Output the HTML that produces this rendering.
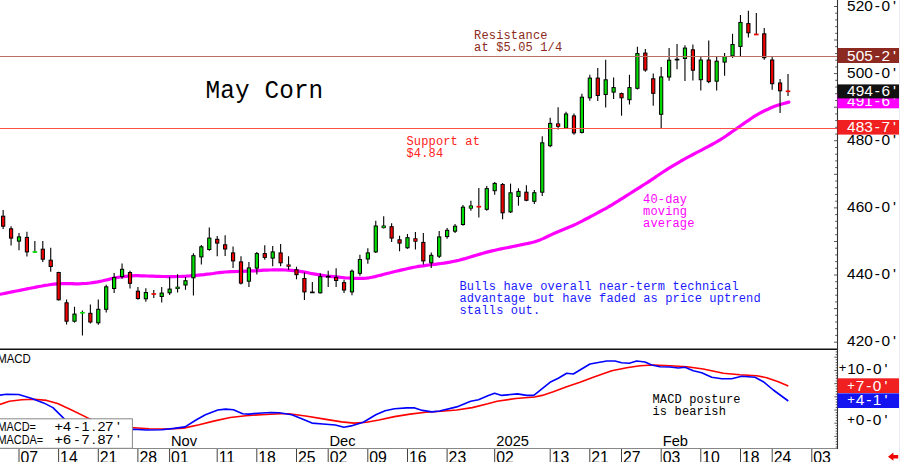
<!DOCTYPE html>
<html><head><meta charset="utf-8"><title>May Corn</title>
<style>
html,body{margin:0;padding:0;background:#fff;}
body{width:900px;height:462px;overflow:hidden;position:relative;font-family:"Liberation Sans",sans-serif;}
svg{position:absolute;left:0;top:0;display:block}
.sans{font-family:"Liberation Sans",sans-serif;}
.mono{font-family:"Liberation Mono",monospace;}
</style></head><body>
<svg width="900" height="462" viewBox="0 0 900 462">
<polyline points="0.0,294.3 3.0,293.7 6.0,293.1 9.0,292.5 12.0,291.9 15.0,291.3 18.0,290.7 21.0,290.1 24.0,289.5 27.0,288.9 30.0,288.3 33.0,287.7 36.0,287.1 39.0,286.5 42.0,286.0 45.0,285.4 48.0,285.0 51.0,284.5 54.0,284.1 57.0,283.8 60.0,283.6 63.0,283.5 66.0,283.6 69.0,283.6 72.0,283.7 75.0,283.8 78.0,283.8 81.0,283.7 84.0,283.5 87.0,283.3 90.0,283.0 93.0,282.6 96.0,282.2 99.0,281.6 102.0,281.0 105.0,280.3 108.0,279.6 111.0,278.8 114.0,278.1 117.0,277.5 120.0,277.0 123.0,276.6 126.0,276.3 129.0,276.0 132.0,275.8 135.0,275.7 138.0,275.7 141.0,275.8 144.0,275.9 147.0,276.0 150.0,276.1 153.0,276.2 156.0,276.3 159.0,276.4 162.0,276.5 165.0,276.5 168.0,276.6 171.0,276.6 174.0,276.6 177.0,276.5 180.0,276.5 183.0,276.3 186.0,276.2 189.0,276.0 192.0,275.7 195.0,275.5 198.0,275.2 201.0,274.9 204.0,274.6 207.0,274.2 210.0,273.9 213.0,273.5 216.0,273.0 219.0,272.6 222.0,272.3 225.0,272.0 228.0,271.8 231.0,271.7 234.0,271.6 237.0,271.5 240.0,271.4 243.0,271.3 246.0,271.2 249.0,271.1 252.0,270.9 255.0,270.8 258.0,270.6 261.0,270.4 264.0,270.2 267.0,270.1 270.0,270.0 273.0,269.9 276.0,269.8 279.0,269.8 282.0,269.9 285.0,270.0 288.0,270.2 291.0,270.4 294.0,270.6 297.0,270.9 300.0,271.3 303.0,271.8 306.0,272.4 309.0,273.0 312.0,273.7 315.0,274.2 318.0,274.7 321.0,275.2 324.0,275.6 327.0,276.0 330.0,276.3 333.0,276.6 336.0,276.9 339.0,277.2 342.0,277.5 345.0,277.8 348.0,278.0 351.0,278.2 354.0,278.3 357.0,278.4 360.0,278.4 363.0,278.3 366.0,278.1 369.0,277.8 372.0,277.2 375.0,276.6 378.0,275.8 381.0,275.1 384.0,274.3 387.0,273.5 390.0,272.8 393.0,272.0 396.0,271.3 399.0,270.6 402.0,269.9 405.0,269.2 408.0,268.5 411.0,267.9 414.0,267.3 417.0,266.7 420.0,266.2 423.0,265.8 426.0,265.3 429.0,265.0 432.0,264.7 435.0,264.3 438.0,263.9 441.0,263.5 444.0,263.1 447.0,262.6 450.0,262.1 453.0,261.5 456.0,260.9 459.0,260.2 462.0,259.4 465.0,258.6 468.0,257.7 471.0,256.8 474.0,255.9 477.0,255.0 480.0,254.1 483.0,253.3 486.0,252.4 489.0,251.6 492.0,250.9 495.0,250.2 498.0,249.5 501.0,248.9 504.0,248.3 507.0,247.7 510.0,247.1 513.0,246.5 516.0,245.9 519.0,245.2 522.0,244.6 525.0,244.0 528.0,243.4 531.0,242.7 534.0,242.0 537.0,241.0 540.0,239.9 543.0,238.6 546.0,237.2 549.0,235.8 552.0,234.4 555.0,233.0 558.0,231.7 561.0,230.5 564.0,229.3 567.0,228.0 570.0,226.8 573.0,225.5 576.0,224.1 579.0,222.6 582.0,221.1 585.0,219.5 588.0,218.0 591.0,216.4 594.0,214.8 597.0,213.2 600.0,211.5 603.0,209.9 606.0,208.3 609.0,206.5 612.0,204.8 615.0,202.9 618.0,201.1 621.0,199.2 624.0,197.3 627.0,195.4 630.0,193.5 633.0,191.6 636.0,189.7 639.0,187.8 642.0,185.9 645.0,184.0 648.0,182.1 651.0,180.1 654.0,178.1 657.0,176.0 660.0,174.0 663.0,172.0 666.0,170.1 669.0,168.2 672.0,166.4 675.0,164.6 678.0,162.8 681.0,161.0 684.0,159.3 687.0,157.7 690.0,156.1 693.0,154.5 696.0,152.9 699.0,151.4 702.0,149.8 705.0,148.2 708.0,146.6 711.0,145.0 714.0,143.3 717.0,141.7 720.0,139.9 723.0,138.0 726.0,136.0 729.0,133.9 732.0,131.8 735.0,129.7 738.0,127.6 741.0,125.5 744.0,123.4 747.0,121.3 750.0,119.3 753.0,117.2 756.0,115.3 759.0,113.6 762.0,112.0 765.0,110.5 768.0,109.2 771.0,107.8 774.0,106.6 777.0,105.5 780.0,104.5 783.0,103.7 786.0,102.9 788.9,102.1" fill="none" stroke="#ff00ff" stroke-width="3.2" stroke-linejoin="round" stroke-linecap="round"/>
<line x1="3.15" y1="210.0" x2="3.15" y2="229.0" stroke="#000" stroke-width="1.1"/>
<rect x="1.55" y="216.2" width="3.2" height="10.0" fill="#f00000" stroke="#000" stroke-width="1"/>
<line x1="11.08" y1="226.3" x2="11.08" y2="245.5" stroke="#000" stroke-width="1.1"/>
<rect x="9.48" y="228.8" width="3.2" height="9.3" fill="#f00000" stroke="#000" stroke-width="1"/>
<line x1="19.01" y1="232.9" x2="19.01" y2="250.2" stroke="#000" stroke-width="1.1"/>
<rect x="17.41" y="236.9" width="3.2" height="4.2" fill="#00e000" stroke="#000" stroke-width="1"/>
<line x1="26.93" y1="231.8" x2="26.93" y2="256.4" stroke="#000" stroke-width="1.1"/>
<rect x="25.33" y="237.4" width="3.2" height="14.5" fill="#f00000" stroke="#000" stroke-width="1"/>
<line x1="34.86" y1="240.9" x2="34.86" y2="252.8" stroke="#000" stroke-width="1.1"/>
<line x1="32.56" y1="252.0" x2="37.16" y2="252.0" stroke="#00e000" stroke-width="1.7"/>
<line x1="42.79" y1="241.0" x2="42.79" y2="262.0" stroke="#000" stroke-width="1.1"/>
<rect x="41.19" y="249.2" width="3.2" height="10.0" fill="#f00000" stroke="#000" stroke-width="1"/>
<line x1="50.72" y1="247.8" x2="50.72" y2="271.7" stroke="#000" stroke-width="1.1"/>
<rect x="49.12" y="260.2" width="3.2" height="6.3" fill="#f00000" stroke="#000" stroke-width="1"/>
<line x1="58.65" y1="271.7" x2="58.65" y2="300.6" stroke="#000" stroke-width="1.1"/>
<rect x="57.05" y="272.5" width="3.2" height="27.3" fill="#f00000" stroke="#000" stroke-width="1"/>
<line x1="66.57" y1="299.5" x2="66.57" y2="324.5" stroke="#000" stroke-width="1.1"/>
<rect x="64.97" y="302.8" width="3.2" height="18.4" fill="#f00000" stroke="#000" stroke-width="1"/>
<line x1="74.50" y1="306.8" x2="74.50" y2="322.6" stroke="#000" stroke-width="1.1"/>
<rect x="72.90" y="314.1" width="3.2" height="7.1" fill="#00e000" stroke="#000" stroke-width="1"/>
<line x1="82.43" y1="310.4" x2="82.43" y2="335.5" stroke="#000" stroke-width="1.1"/>
<line x1="80.13" y1="312.8" x2="84.73" y2="312.8" stroke="#00e000" stroke-width="1.7"/>
<line x1="90.36" y1="304.4" x2="90.36" y2="323.4" stroke="#000" stroke-width="1.1"/>
<rect x="88.76" y="313.3" width="3.2" height="8.7" fill="#f00000" stroke="#000" stroke-width="1"/>
<line x1="98.29" y1="299.5" x2="98.29" y2="324.7" stroke="#000" stroke-width="1.1"/>
<rect x="96.69" y="309.3" width="3.2" height="13.5" fill="#00e000" stroke="#000" stroke-width="1"/>
<line x1="106.21" y1="284.8" x2="106.21" y2="312.4" stroke="#000" stroke-width="1.1"/>
<rect x="104.61" y="286.8" width="3.2" height="22.5" fill="#00e000" stroke="#000" stroke-width="1"/>
<line x1="114.14" y1="272.9" x2="114.14" y2="293.0" stroke="#000" stroke-width="1.1"/>
<rect x="112.54" y="277.5" width="3.2" height="11.0" fill="#00e000" stroke="#000" stroke-width="1"/>
<line x1="122.07" y1="263.6" x2="122.07" y2="278.8" stroke="#000" stroke-width="1.1"/>
<rect x="120.47" y="269.3" width="3.2" height="7.2" fill="#00e000" stroke="#000" stroke-width="1"/>
<line x1="130.00" y1="270.7" x2="130.00" y2="288.6" stroke="#000" stroke-width="1.1"/>
<rect x="128.40" y="272.5" width="3.2" height="10.8" fill="#f00000" stroke="#000" stroke-width="1"/>
<line x1="137.93" y1="287.0" x2="137.93" y2="299.8" stroke="#000" stroke-width="1.1"/>
<rect x="136.33" y="291.2" width="3.2" height="7.3" fill="#f00000" stroke="#000" stroke-width="1"/>
<line x1="145.85" y1="288.3" x2="145.85" y2="301.7" stroke="#000" stroke-width="1.1"/>
<rect x="144.25" y="292.5" width="3.2" height="6.3" fill="#00e000" stroke="#000" stroke-width="1"/>
<line x1="153.78" y1="290.0" x2="153.78" y2="297.9" stroke="#000" stroke-width="1.1"/>
<line x1="151.48" y1="294.0" x2="156.08" y2="294.0" stroke="#f00000" stroke-width="1.7"/>
<line x1="161.71" y1="287.0" x2="161.71" y2="302.6" stroke="#000" stroke-width="1.1"/>
<rect x="160.11" y="293.1" width="3.2" height="3.4" fill="#00e000" stroke="#000" stroke-width="1"/>
<line x1="169.64" y1="277.0" x2="169.64" y2="295.0" stroke="#000" stroke-width="1.1"/>
<rect x="168.04" y="289.1" width="3.2" height="3.7" fill="#00e000" stroke="#000" stroke-width="1"/>
<line x1="177.57" y1="274.3" x2="177.57" y2="292.6" stroke="#000" stroke-width="1.1"/>
<rect x="175.47" y="286.7" width="4.2" height="2.3" fill="#000"/>
<rect x="176.37" y="287.3" width="2.4" height="1.1" fill="#00e000"/>
<line x1="185.49" y1="277.0" x2="185.49" y2="289.8" stroke="#000" stroke-width="1.1"/>
<rect x="183.89" y="280.7" width="3.2" height="4.3" fill="#00e000" stroke="#000" stroke-width="1"/>
<line x1="193.42" y1="253.3" x2="193.42" y2="295.5" stroke="#000" stroke-width="1.1"/>
<rect x="191.82" y="255.7" width="3.2" height="22.1" fill="#00e000" stroke="#000" stroke-width="1"/>
<line x1="201.35" y1="245.0" x2="201.35" y2="264.5" stroke="#000" stroke-width="1.1"/>
<rect x="199.75" y="246.8" width="3.2" height="10.1" fill="#00e000" stroke="#000" stroke-width="1"/>
<line x1="209.28" y1="227.4" x2="209.28" y2="250.7" stroke="#000" stroke-width="1.1"/>
<rect x="207.68" y="238.1" width="3.2" height="11.4" fill="#00e000" stroke="#000" stroke-width="1"/>
<line x1="217.21" y1="236.0" x2="217.21" y2="256.2" stroke="#000" stroke-width="1.1"/>
<rect x="215.61" y="239.3" width="3.2" height="3.8" fill="#f00000" stroke="#000" stroke-width="1"/>
<line x1="225.13" y1="235.2" x2="225.13" y2="256.0" stroke="#000" stroke-width="1.1"/>
<rect x="223.53" y="244.8" width="3.2" height="4.2" fill="#f00000" stroke="#000" stroke-width="1"/>
<line x1="233.06" y1="246.4" x2="233.06" y2="267.9" stroke="#000" stroke-width="1.1"/>
<rect x="231.46" y="252.9" width="3.2" height="8.0" fill="#f00000" stroke="#000" stroke-width="1"/>
<line x1="240.99" y1="256.2" x2="240.99" y2="284.5" stroke="#000" stroke-width="1.1"/>
<rect x="239.39" y="261.9" width="3.2" height="21.2" fill="#f00000" stroke="#000" stroke-width="1"/>
<line x1="248.92" y1="261.9" x2="248.92" y2="286.9" stroke="#000" stroke-width="1.1"/>
<rect x="247.32" y="267.9" width="3.2" height="13.3" fill="#00e000" stroke="#000" stroke-width="1"/>
<line x1="256.85" y1="251.9" x2="256.85" y2="274.5" stroke="#000" stroke-width="1.1"/>
<rect x="255.25" y="253.6" width="3.2" height="14.5" fill="#00e000" stroke="#000" stroke-width="1"/>
<line x1="264.77" y1="245.2" x2="264.77" y2="259.8" stroke="#000" stroke-width="1.1"/>
<rect x="263.17" y="253.6" width="3.2" height="3.8" fill="#f00000" stroke="#000" stroke-width="1"/>
<line x1="272.70" y1="246.0" x2="272.70" y2="266.2" stroke="#000" stroke-width="1.1"/>
<rect x="271.10" y="251.9" width="3.2" height="6.2" fill="#00e000" stroke="#000" stroke-width="1"/>
<line x1="280.63" y1="244.0" x2="280.63" y2="266.2" stroke="#000" stroke-width="1.1"/>
<rect x="279.03" y="252.9" width="3.2" height="9.9" fill="#f00000" stroke="#000" stroke-width="1"/>
<line x1="288.56" y1="256.2" x2="288.56" y2="269.8" stroke="#000" stroke-width="1.1"/>
<rect x="286.46" y="264.5" width="4.2" height="2.2" fill="#000"/>
<rect x="287.36" y="265.1" width="2.4" height="1.0" fill="#f00000"/>
<line x1="296.49" y1="266.7" x2="296.49" y2="279.3" stroke="#000" stroke-width="1.1"/>
<rect x="294.89" y="269.8" width="3.2" height="4.9" fill="#f00000" stroke="#000" stroke-width="1"/>
<line x1="304.41" y1="272.4" x2="304.41" y2="300.0" stroke="#000" stroke-width="1.1"/>
<rect x="302.81" y="278.5" width="3.2" height="13.4" fill="#f00000" stroke="#000" stroke-width="1"/>
<line x1="312.34" y1="282.0" x2="312.34" y2="292.9" stroke="#000" stroke-width="1.1"/>
<line x1="310.04" y1="292.4" x2="314.64" y2="292.4" stroke="#000" stroke-width="1.7"/>
<line x1="320.27" y1="273.3" x2="320.27" y2="293.6" stroke="#000" stroke-width="1.1"/>
<rect x="318.67" y="276.7" width="3.2" height="16.1" fill="#00e000" stroke="#000" stroke-width="1"/>
<line x1="328.20" y1="270.7" x2="328.20" y2="286.9" stroke="#000" stroke-width="1.1"/>
<line x1="325.90" y1="276.7" x2="330.50" y2="276.7" stroke="#000" stroke-width="1.7"/>
<line x1="336.13" y1="268.3" x2="336.13" y2="286.9" stroke="#000" stroke-width="1.1"/>
<rect x="334.53" y="277.4" width="3.2" height="3.1" fill="#f00000" stroke="#000" stroke-width="1"/>
<line x1="344.05" y1="279.8" x2="344.05" y2="292.9" stroke="#000" stroke-width="1.1"/>
<rect x="342.45" y="282.6" width="3.2" height="7.4" fill="#f00000" stroke="#000" stroke-width="1"/>
<line x1="351.98" y1="269.5" x2="351.98" y2="295.2" stroke="#000" stroke-width="1.1"/>
<rect x="350.38" y="271.2" width="3.2" height="20.7" fill="#00e000" stroke="#000" stroke-width="1"/>
<line x1="359.91" y1="254.8" x2="359.91" y2="275.7" stroke="#000" stroke-width="1.1"/>
<rect x="358.31" y="259.5" width="3.2" height="13.8" fill="#00e000" stroke="#000" stroke-width="1"/>
<line x1="367.84" y1="248.3" x2="367.84" y2="263.8" stroke="#000" stroke-width="1.1"/>
<rect x="366.24" y="252.9" width="3.2" height="6.1" fill="#00e000" stroke="#000" stroke-width="1"/>
<line x1="375.77" y1="220.7" x2="375.77" y2="252.9" stroke="#000" stroke-width="1.1"/>
<rect x="374.17" y="226.0" width="3.2" height="25.9" fill="#00e000" stroke="#000" stroke-width="1"/>
<line x1="383.69" y1="216.2" x2="383.69" y2="228.6" stroke="#000" stroke-width="1.1"/>
<rect x="381.59" y="225.5" width="4.2" height="2.6" fill="#000"/>
<rect x="382.49" y="226.1" width="2.4" height="1.4" fill="#00e000"/>
<line x1="391.62" y1="223.3" x2="391.62" y2="242.1" stroke="#000" stroke-width="1.1"/>
<rect x="390.02" y="226.7" width="3.2" height="11.4" fill="#f00000" stroke="#000" stroke-width="1"/>
<line x1="399.55" y1="235.7" x2="399.55" y2="251.2" stroke="#000" stroke-width="1.1"/>
<rect x="397.95" y="239.8" width="3.2" height="3.3" fill="#f00000" stroke="#000" stroke-width="1"/>
<line x1="407.48" y1="234.0" x2="407.48" y2="248.8" stroke="#000" stroke-width="1.1"/>
<rect x="405.88" y="237.7" width="3.2" height="10.1" fill="#00e000" stroke="#000" stroke-width="1"/>
<line x1="415.41" y1="232.1" x2="415.41" y2="249.5" stroke="#000" stroke-width="1.1"/>
<rect x="413.31" y="238.3" width="4.2" height="3.4" fill="#000"/>
<rect x="414.21" y="238.9" width="2.4" height="2.2" fill="#f00000"/>
<line x1="423.33" y1="232.9" x2="423.33" y2="264.5" stroke="#000" stroke-width="1.1"/>
<rect x="421.73" y="242.4" width="3.2" height="18.5" fill="#f00000" stroke="#000" stroke-width="1"/>
<line x1="431.26" y1="252.6" x2="431.26" y2="268.1" stroke="#000" stroke-width="1.1"/>
<rect x="429.66" y="255.3" width="3.2" height="7.5" fill="#00e000" stroke="#000" stroke-width="1"/>
<line x1="439.19" y1="231.0" x2="439.19" y2="257.9" stroke="#000" stroke-width="1.1"/>
<rect x="437.59" y="236.9" width="3.2" height="19.3" fill="#00e000" stroke="#000" stroke-width="1"/>
<line x1="447.12" y1="228.1" x2="447.12" y2="238.8" stroke="#000" stroke-width="1.1"/>
<rect x="445.52" y="230.3" width="3.2" height="6.3" fill="#00e000" stroke="#000" stroke-width="1"/>
<line x1="455.05" y1="224.0" x2="455.05" y2="232.9" stroke="#000" stroke-width="1.1"/>
<rect x="453.45" y="226.2" width="3.2" height="5.0" fill="#00e000" stroke="#000" stroke-width="1"/>
<line x1="462.97" y1="205.0" x2="462.97" y2="225.7" stroke="#000" stroke-width="1.1"/>
<rect x="461.37" y="207.2" width="3.2" height="17.3" fill="#00e000" stroke="#000" stroke-width="1"/>
<line x1="470.90" y1="200.7" x2="470.90" y2="210.7" stroke="#000" stroke-width="1.1"/>
<rect x="468.80" y="205.5" width="4.2" height="3.1" fill="#000"/>
<rect x="469.70" y="206.1" width="2.4" height="1.9" fill="#00e000"/>
<line x1="478.83" y1="188.1" x2="478.83" y2="217.4" stroke="#000" stroke-width="1.1"/>
<line x1="476.53" y1="206.7" x2="481.13" y2="206.7" stroke="#f00000" stroke-width="1.7"/>
<line x1="486.76" y1="186.0" x2="486.76" y2="210.7" stroke="#000" stroke-width="1.1"/>
<rect x="485.16" y="188.6" width="3.2" height="20.7" fill="#00e000" stroke="#000" stroke-width="1"/>
<line x1="494.69" y1="182.1" x2="494.69" y2="194.8" stroke="#000" stroke-width="1.1"/>
<rect x="493.09" y="183.4" width="3.2" height="7.3" fill="#00e000" stroke="#000" stroke-width="1"/>
<line x1="502.61" y1="182.9" x2="502.61" y2="219.3" stroke="#000" stroke-width="1.1"/>
<rect x="501.01" y="184.5" width="3.2" height="28.3" fill="#f00000" stroke="#000" stroke-width="1"/>
<line x1="510.54" y1="183.6" x2="510.54" y2="213.0" stroke="#000" stroke-width="1.1"/>
<rect x="508.94" y="192.8" width="3.2" height="19.1" fill="#00e000" stroke="#000" stroke-width="1"/>
<line x1="518.47" y1="188.3" x2="518.47" y2="205.7" stroke="#000" stroke-width="1.1"/>
<rect x="516.87" y="191.4" width="3.2" height="5.0" fill="#00e000" stroke="#000" stroke-width="1"/>
<line x1="526.40" y1="185.2" x2="526.40" y2="201.3" stroke="#000" stroke-width="1.1"/>
<rect x="524.80" y="192.2" width="3.2" height="8.1" fill="#f00000" stroke="#000" stroke-width="1"/>
<line x1="534.33" y1="190.1" x2="534.33" y2="203.9" stroke="#000" stroke-width="1.1"/>
<rect x="532.73" y="192.7" width="3.2" height="8.6" fill="#00e000" stroke="#000" stroke-width="1"/>
<line x1="542.25" y1="136.2" x2="542.25" y2="196.1" stroke="#000" stroke-width="1.1"/>
<rect x="540.65" y="142.8" width="3.2" height="49.4" fill="#00e000" stroke="#000" stroke-width="1"/>
<line x1="550.18" y1="117.7" x2="550.18" y2="147.3" stroke="#000" stroke-width="1.1"/>
<rect x="548.58" y="123.4" width="3.2" height="22.3" fill="#00e000" stroke="#000" stroke-width="1"/>
<line x1="558.11" y1="107.3" x2="558.11" y2="129.4" stroke="#000" stroke-width="1.1"/>
<rect x="556.01" y="123.4" width="4.2" height="3.4" fill="#000"/>
<rect x="556.91" y="124.0" width="2.4" height="2.2" fill="#f00000"/>
<line x1="566.04" y1="111.7" x2="566.04" y2="129.1" stroke="#000" stroke-width="1.1"/>
<rect x="564.44" y="114.0" width="3.2" height="14.1" fill="#00e000" stroke="#000" stroke-width="1"/>
<line x1="573.97" y1="113.4" x2="573.97" y2="134.7" stroke="#000" stroke-width="1.1"/>
<rect x="572.37" y="115.9" width="3.2" height="17.0" fill="#f00000" stroke="#000" stroke-width="1"/>
<line x1="581.89" y1="93.8" x2="581.89" y2="133.6" stroke="#000" stroke-width="1.1"/>
<rect x="580.29" y="97.2" width="3.2" height="35.2" fill="#00e000" stroke="#000" stroke-width="1"/>
<line x1="589.82" y1="74.8" x2="589.82" y2="100.7" stroke="#000" stroke-width="1.1"/>
<rect x="588.22" y="78.1" width="3.2" height="19.7" fill="#00e000" stroke="#000" stroke-width="1"/>
<line x1="597.75" y1="68.1" x2="597.75" y2="101.0" stroke="#000" stroke-width="1.1"/>
<rect x="596.15" y="78.1" width="3.2" height="17.4" fill="#f00000" stroke="#000" stroke-width="1"/>
<line x1="605.68" y1="59.8" x2="605.68" y2="107.4" stroke="#000" stroke-width="1.1"/>
<rect x="604.08" y="79.8" width="3.2" height="14.7" fill="#00e000" stroke="#000" stroke-width="1"/>
<line x1="613.61" y1="77.6" x2="613.61" y2="99.0" stroke="#000" stroke-width="1.1"/>
<rect x="612.01" y="87.6" width="3.2" height="4.5" fill="#00e000" stroke="#000" stroke-width="1"/>
<line x1="621.53" y1="92.6" x2="621.53" y2="115.7" stroke="#000" stroke-width="1.1"/>
<rect x="619.93" y="93.6" width="3.2" height="4.2" fill="#f00000" stroke="#000" stroke-width="1"/>
<line x1="629.46" y1="74.8" x2="629.46" y2="104.5" stroke="#000" stroke-width="1.1"/>
<rect x="627.86" y="87.6" width="3.2" height="12.1" fill="#00e000" stroke="#000" stroke-width="1"/>
<line x1="637.39" y1="46.7" x2="637.39" y2="89.5" stroke="#000" stroke-width="1.1"/>
<rect x="635.79" y="53.6" width="3.2" height="34.7" fill="#00e000" stroke="#000" stroke-width="1"/>
<line x1="645.32" y1="49.0" x2="645.32" y2="71.7" stroke="#000" stroke-width="1.1"/>
<rect x="643.72" y="53.1" width="3.2" height="16.9" fill="#f00000" stroke="#000" stroke-width="1"/>
<line x1="653.25" y1="73.6" x2="653.25" y2="105.7" stroke="#000" stroke-width="1.1"/>
<rect x="651.65" y="78.8" width="3.2" height="14.5" fill="#f00000" stroke="#000" stroke-width="1"/>
<line x1="661.17" y1="66.9" x2="661.17" y2="128.3" stroke="#000" stroke-width="1.1"/>
<rect x="659.57" y="76.9" width="3.2" height="37.4" fill="#00e000" stroke="#000" stroke-width="1"/>
<line x1="669.10" y1="47.9" x2="669.10" y2="80.7" stroke="#000" stroke-width="1.1"/>
<rect x="667.50" y="60.2" width="3.2" height="16.8" fill="#00e000" stroke="#000" stroke-width="1"/>
<line x1="677.03" y1="43.9" x2="677.03" y2="69.2" stroke="#000" stroke-width="1.1"/>
<line x1="674.73" y1="59.6" x2="679.33" y2="59.6" stroke="#000" stroke-width="1.7"/>
<line x1="684.96" y1="45.2" x2="684.96" y2="81.0" stroke="#000" stroke-width="1.1"/>
<rect x="683.36" y="48.1" width="3.2" height="10.4" fill="#00e000" stroke="#000" stroke-width="1"/>
<line x1="692.89" y1="44.5" x2="692.89" y2="80.5" stroke="#000" stroke-width="1.1"/>
<rect x="691.29" y="49.8" width="3.2" height="20.4" fill="#f00000" stroke="#000" stroke-width="1"/>
<line x1="700.81" y1="57.1" x2="700.81" y2="90.5" stroke="#000" stroke-width="1.1"/>
<rect x="699.21" y="60.0" width="3.2" height="19.7" fill="#00e000" stroke="#000" stroke-width="1"/>
<line x1="708.74" y1="40.5" x2="708.74" y2="83.3" stroke="#000" stroke-width="1.1"/>
<rect x="707.14" y="60.0" width="3.2" height="21.6" fill="#f00000" stroke="#000" stroke-width="1"/>
<line x1="716.67" y1="56.0" x2="716.67" y2="90.5" stroke="#000" stroke-width="1.1"/>
<rect x="715.07" y="61.2" width="3.2" height="20.0" fill="#00e000" stroke="#000" stroke-width="1"/>
<line x1="724.60" y1="52.9" x2="724.60" y2="75.7" stroke="#000" stroke-width="1.1"/>
<rect x="723.00" y="56.5" width="3.2" height="5.6" fill="#00e000" stroke="#000" stroke-width="1"/>
<line x1="732.53" y1="33.8" x2="732.53" y2="57.9" stroke="#000" stroke-width="1.1"/>
<rect x="730.93" y="44.5" width="3.2" height="11.4" fill="#00e000" stroke="#000" stroke-width="1"/>
<line x1="740.45" y1="15.0" x2="740.45" y2="56.4" stroke="#000" stroke-width="1.1"/>
<rect x="738.85" y="22.4" width="3.2" height="24.0" fill="#00e000" stroke="#000" stroke-width="1"/>
<line x1="748.38" y1="10.7" x2="748.38" y2="37.6" stroke="#000" stroke-width="1.1"/>
<rect x="746.78" y="23.6" width="3.2" height="9.2" fill="#f00000" stroke="#000" stroke-width="1"/>
<line x1="756.31" y1="13.1" x2="756.31" y2="34.5" stroke="#000" stroke-width="1.1"/>
<line x1="754.01" y1="34.5" x2="758.61" y2="34.5" stroke="#f00000" stroke-width="1.7"/>
<line x1="764.24" y1="28.1" x2="764.24" y2="59.7" stroke="#000" stroke-width="1.1"/>
<rect x="762.64" y="33.8" width="3.2" height="23.9" fill="#f00000" stroke="#000" stroke-width="1"/>
<line x1="772.17" y1="56.3" x2="772.17" y2="89.8" stroke="#000" stroke-width="1.1"/>
<rect x="770.57" y="60.0" width="3.2" height="23.7" fill="#f00000" stroke="#000" stroke-width="1"/>
<line x1="780.09" y1="79.0" x2="780.09" y2="113.1" stroke="#000" stroke-width="1.1"/>
<rect x="778.49" y="83.0" width="3.2" height="7.8" fill="#f00000" stroke="#000" stroke-width="1"/>
<line x1="788.02" y1="74.1" x2="788.02" y2="95.9" stroke="#000" stroke-width="1.1"/>
<line x1="785.72" y1="91.3" x2="790.32" y2="91.3" stroke="#f00000" stroke-width="1.7"/>
<line x1="0" y1="56.5" x2="837" y2="56.5" stroke="#b87064" stroke-width="1"/>
<line x1="0" y1="128.5" x2="837" y2="128.5" stroke="#ff5048" stroke-width="1"/>
<line x1="0" y1="349.2" x2="837" y2="349.2" stroke="#111" stroke-width="1.4"/>
<line x1="0" y1="448.5" x2="837" y2="448.5" stroke="#888" stroke-width="1"/>
<line x1="837.5" y1="0" x2="837.5" y2="449" stroke="#333" stroke-width="1.1"/>
<line x1="834" y1="342.2" x2="837" y2="342.2" stroke="#444" stroke-width="0.9"/>
<line x1="835.2" y1="335.4" x2="837" y2="335.4" stroke="#444" stroke-width="0.9"/>
<line x1="835.2" y1="328.7" x2="837" y2="328.7" stroke="#444" stroke-width="0.9"/>
<line x1="835.2" y1="322.0" x2="837" y2="322.0" stroke="#444" stroke-width="0.9"/>
<line x1="835.2" y1="315.3" x2="837" y2="315.3" stroke="#444" stroke-width="0.9"/>
<line x1="834" y1="308.6" x2="837" y2="308.6" stroke="#444" stroke-width="0.9"/>
<line x1="835.2" y1="301.9" x2="837" y2="301.9" stroke="#444" stroke-width="0.9"/>
<line x1="835.2" y1="295.2" x2="837" y2="295.2" stroke="#444" stroke-width="0.9"/>
<line x1="835.2" y1="288.4" x2="837" y2="288.4" stroke="#444" stroke-width="0.9"/>
<line x1="835.2" y1="281.7" x2="837" y2="281.7" stroke="#444" stroke-width="0.9"/>
<line x1="834" y1="275.0" x2="837" y2="275.0" stroke="#444" stroke-width="0.9"/>
<line x1="835.2" y1="268.3" x2="837" y2="268.3" stroke="#444" stroke-width="0.9"/>
<line x1="835.2" y1="261.6" x2="837" y2="261.6" stroke="#444" stroke-width="0.9"/>
<line x1="835.2" y1="254.9" x2="837" y2="254.9" stroke="#444" stroke-width="0.9"/>
<line x1="835.2" y1="248.2" x2="837" y2="248.2" stroke="#444" stroke-width="0.9"/>
<line x1="834" y1="241.5" x2="837" y2="241.5" stroke="#444" stroke-width="0.9"/>
<line x1="835.2" y1="234.7" x2="837" y2="234.7" stroke="#444" stroke-width="0.9"/>
<line x1="835.2" y1="228.0" x2="837" y2="228.0" stroke="#444" stroke-width="0.9"/>
<line x1="835.2" y1="221.3" x2="837" y2="221.3" stroke="#444" stroke-width="0.9"/>
<line x1="835.2" y1="214.6" x2="837" y2="214.6" stroke="#444" stroke-width="0.9"/>
<line x1="834" y1="207.9" x2="837" y2="207.9" stroke="#444" stroke-width="0.9"/>
<line x1="835.2" y1="201.2" x2="837" y2="201.2" stroke="#444" stroke-width="0.9"/>
<line x1="835.2" y1="194.5" x2="837" y2="194.5" stroke="#444" stroke-width="0.9"/>
<line x1="835.2" y1="187.7" x2="837" y2="187.7" stroke="#444" stroke-width="0.9"/>
<line x1="835.2" y1="181.0" x2="837" y2="181.0" stroke="#444" stroke-width="0.9"/>
<line x1="834" y1="174.3" x2="837" y2="174.3" stroke="#444" stroke-width="0.9"/>
<line x1="835.2" y1="167.6" x2="837" y2="167.6" stroke="#444" stroke-width="0.9"/>
<line x1="835.2" y1="160.9" x2="837" y2="160.9" stroke="#444" stroke-width="0.9"/>
<line x1="835.2" y1="154.2" x2="837" y2="154.2" stroke="#444" stroke-width="0.9"/>
<line x1="835.2" y1="147.5" x2="837" y2="147.5" stroke="#444" stroke-width="0.9"/>
<line x1="834" y1="140.7" x2="837" y2="140.7" stroke="#444" stroke-width="0.9"/>
<line x1="835.2" y1="134.0" x2="837" y2="134.0" stroke="#444" stroke-width="0.9"/>
<line x1="835.2" y1="127.3" x2="837" y2="127.3" stroke="#444" stroke-width="0.9"/>
<line x1="835.2" y1="120.6" x2="837" y2="120.6" stroke="#444" stroke-width="0.9"/>
<line x1="835.2" y1="113.9" x2="837" y2="113.9" stroke="#444" stroke-width="0.9"/>
<line x1="834" y1="107.2" x2="837" y2="107.2" stroke="#444" stroke-width="0.9"/>
<line x1="835.2" y1="100.5" x2="837" y2="100.5" stroke="#444" stroke-width="0.9"/>
<line x1="835.2" y1="93.7" x2="837" y2="93.7" stroke="#444" stroke-width="0.9"/>
<line x1="835.2" y1="87.0" x2="837" y2="87.0" stroke="#444" stroke-width="0.9"/>
<line x1="835.2" y1="80.3" x2="837" y2="80.3" stroke="#444" stroke-width="0.9"/>
<line x1="834" y1="73.6" x2="837" y2="73.6" stroke="#444" stroke-width="0.9"/>
<line x1="835.2" y1="66.9" x2="837" y2="66.9" stroke="#444" stroke-width="0.9"/>
<line x1="835.2" y1="60.2" x2="837" y2="60.2" stroke="#444" stroke-width="0.9"/>
<line x1="835.2" y1="53.5" x2="837" y2="53.5" stroke="#444" stroke-width="0.9"/>
<line x1="835.2" y1="46.7" x2="837" y2="46.7" stroke="#444" stroke-width="0.9"/>
<line x1="834" y1="40.0" x2="837" y2="40.0" stroke="#444" stroke-width="0.9"/>
<line x1="835.2" y1="33.3" x2="837" y2="33.3" stroke="#444" stroke-width="0.9"/>
<line x1="835.2" y1="26.6" x2="837" y2="26.6" stroke="#444" stroke-width="0.9"/>
<line x1="835.2" y1="19.9" x2="837" y2="19.9" stroke="#444" stroke-width="0.9"/>
<line x1="835.2" y1="13.2" x2="837" y2="13.2" stroke="#444" stroke-width="0.9"/>
<line x1="834" y1="6.5" x2="837" y2="6.5" stroke="#444" stroke-width="0.9"/>
<line x1="835.7" y1="351.9" x2="837" y2="351.9" stroke="#444" stroke-width="0.9"/>
<line x1="835.7" y1="354.6" x2="837" y2="354.6" stroke="#444" stroke-width="0.9"/>
<line x1="834.4" y1="357.2" x2="837" y2="357.2" stroke="#444" stroke-width="0.9"/>
<line x1="835.7" y1="359.8" x2="837" y2="359.8" stroke="#444" stroke-width="0.9"/>
<line x1="835.7" y1="362.5" x2="837" y2="362.5" stroke="#444" stroke-width="0.9"/>
<line x1="835.7" y1="365.1" x2="837" y2="365.1" stroke="#444" stroke-width="0.9"/>
<line x1="835.7" y1="367.8" x2="837" y2="367.8" stroke="#444" stroke-width="0.9"/>
<line x1="834.4" y1="370.4" x2="837" y2="370.4" stroke="#444" stroke-width="0.9"/>
<line x1="835.7" y1="373.0" x2="837" y2="373.0" stroke="#444" stroke-width="0.9"/>
<line x1="835.7" y1="375.7" x2="837" y2="375.7" stroke="#444" stroke-width="0.9"/>
<line x1="835.7" y1="378.3" x2="837" y2="378.3" stroke="#444" stroke-width="0.9"/>
<line x1="835.7" y1="381.0" x2="837" y2="381.0" stroke="#444" stroke-width="0.9"/>
<line x1="834.4" y1="383.6" x2="837" y2="383.6" stroke="#444" stroke-width="0.9"/>
<line x1="835.7" y1="386.2" x2="837" y2="386.2" stroke="#444" stroke-width="0.9"/>
<line x1="835.7" y1="388.9" x2="837" y2="388.9" stroke="#444" stroke-width="0.9"/>
<line x1="835.7" y1="391.5" x2="837" y2="391.5" stroke="#444" stroke-width="0.9"/>
<line x1="835.7" y1="394.2" x2="837" y2="394.2" stroke="#444" stroke-width="0.9"/>
<line x1="834.4" y1="396.8" x2="837" y2="396.8" stroke="#444" stroke-width="0.9"/>
<line x1="835.7" y1="399.4" x2="837" y2="399.4" stroke="#444" stroke-width="0.9"/>
<line x1="835.7" y1="402.1" x2="837" y2="402.1" stroke="#444" stroke-width="0.9"/>
<line x1="835.7" y1="404.7" x2="837" y2="404.7" stroke="#444" stroke-width="0.9"/>
<line x1="835.7" y1="407.4" x2="837" y2="407.4" stroke="#444" stroke-width="0.9"/>
<line x1="834.4" y1="410.0" x2="837" y2="410.0" stroke="#444" stroke-width="0.9"/>
<line x1="835.7" y1="412.6" x2="837" y2="412.6" stroke="#444" stroke-width="0.9"/>
<line x1="835.7" y1="415.3" x2="837" y2="415.3" stroke="#444" stroke-width="0.9"/>
<line x1="835.7" y1="417.9" x2="837" y2="417.9" stroke="#444" stroke-width="0.9"/>
<line x1="835.7" y1="420.6" x2="837" y2="420.6" stroke="#444" stroke-width="0.9"/>
<line x1="834.4" y1="423.2" x2="837" y2="423.2" stroke="#444" stroke-width="0.9"/>
<line x1="835.7" y1="425.8" x2="837" y2="425.8" stroke="#444" stroke-width="0.9"/>
<line x1="835.7" y1="428.5" x2="837" y2="428.5" stroke="#444" stroke-width="0.9"/>
<line x1="835.7" y1="431.1" x2="837" y2="431.1" stroke="#444" stroke-width="0.9"/>
<line x1="835.7" y1="433.8" x2="837" y2="433.8" stroke="#444" stroke-width="0.9"/>
<line x1="834.4" y1="436.4" x2="837" y2="436.4" stroke="#444" stroke-width="0.9"/>
<line x1="835.7" y1="439.0" x2="837" y2="439.0" stroke="#444" stroke-width="0.9"/>
<line x1="835.7" y1="441.7" x2="837" y2="441.7" stroke="#444" stroke-width="0.9"/>
<line x1="835.7" y1="444.3" x2="837" y2="444.3" stroke="#444" stroke-width="0.9"/>
<line x1="835.7" y1="447.0" x2="837" y2="447.0" stroke="#444" stroke-width="0.9"/>
<polyline points="0.0,404.4 9.3,401.3 21.8,399.8 34.2,399.2 46.7,400.4 57.6,403.5 71.6,410.0 88.7,418.4 105.0,425.0 120.0,427.5 133.8,427.8 149.3,428.7 168.0,429.0 183.6,428.1 199.1,424.7 214.7,420.9 230.2,417.5 245.8,415.7 261.4,414.7 280.0,413.8 288.7,413.8 307.3,416.3 326.0,419.4 341.6,421.9 354.0,423.1 366.5,422.2 378.9,420.0 394.5,416.6 410.0,414.1 425.6,412.2 441.1,411.3 456.7,410.0 472.2,407.6 487.8,403.8 497.1,401.3 515.8,398.5 534.5,397.0 542.2,395.4 553.3,391.7 566.7,386.7 580.0,382.3 593.3,377.3 611.7,370.7 626.7,367.7 640.0,365.7 653.3,365.0 670.0,365.7 686.7,366.7 703.3,369.0 723.3,373.3 740.0,374.7 756.7,375.7 766.7,377.7 778.3,381.7 788.3,386.0" fill="none" stroke="#ff0000" stroke-width="1.6" stroke-linejoin="round"/>
<polyline points="0.0,395.1 6.2,394.2 18.7,394.5 31.1,398.2 43.6,402.9 52.9,407.6 63.8,418.4 75.0,428.0 90.0,433.0 110.0,432.0 133.8,429.3 146.2,430.0 161.8,429.7 174.2,428.4 185.1,426.9 196.0,420.0 205.4,414.7 217.8,410.0 225.6,409.1 233.4,409.7 242.7,413.8 248.9,414.1 258.2,413.2 270.7,412.5 279.3,412.8 291.8,414.7 301.1,418.4 312.0,423.1 322.9,424.0 335.3,425.0 344.0,427.2 352.5,425.6 363.3,422.2 375.8,414.7 385.1,410.7 394.5,408.8 406.9,407.9 414.7,407.9 422.5,410.4 431.8,411.9 439.6,411.0 456.7,406.9 470.7,401.3 478.5,399.8 487.8,395.7 494.6,393.2 501.8,395.4 517.4,393.9 526.7,395.4 533.8,395.4 550.0,382.3 558.3,378.3 566.7,373.3 573.3,374.0 590.0,364.0 606.7,361.0 615.0,361.0 621.7,362.7 629.3,363.3 636.7,361.0 645.0,362.0 651.7,365.0 660.0,366.7 670.0,367.0 678.3,368.0 685.0,367.3 693.3,370.7 701.7,372.7 711.7,377.3 721.7,378.7 731.7,378.7 741.7,376.3 755.0,377.3 763.3,381.7 773.3,390.0 788.3,401.0" fill="none" stroke="#0000ff" stroke-width="1.6" stroke-linejoin="round"/>
<rect x="-1" y="418.8" width="133.4" height="29.5" fill="#fff" stroke="#888" stroke-width="1"/>
<line x1="19.0" y1="449" x2="19.0" y2="462" stroke="#444" stroke-width="1"/>
<text transform="translate(20.5,463) scale(1,1)" class="sans" font-size="15.8">07</text>
<line x1="58.6" y1="449" x2="58.6" y2="462" stroke="#444" stroke-width="1"/>
<text transform="translate(60.1,463) scale(1,1)" class="sans" font-size="15.8">14</text>
<line x1="98.3" y1="449" x2="98.3" y2="462" stroke="#444" stroke-width="1"/>
<text transform="translate(99.8,463) scale(1,1)" class="sans" font-size="15.8">21</text>
<line x1="137.9" y1="449" x2="137.9" y2="462" stroke="#444" stroke-width="1"/>
<text transform="translate(139.4,463) scale(1,1)" class="sans" font-size="15.8">28</text>
<line x1="169.6" y1="449" x2="169.6" y2="462" stroke="#444" stroke-width="1"/>
<text transform="translate(171.1,463) scale(1,1)" class="sans" font-size="15.8">01</text>
<line x1="217.2" y1="449" x2="217.2" y2="462" stroke="#444" stroke-width="1"/>
<text transform="translate(218.7,463) scale(1,1)" class="sans" font-size="15.8">11</text>
<line x1="256.8" y1="449" x2="256.8" y2="462" stroke="#444" stroke-width="1"/>
<text transform="translate(258.3,463) scale(1,1)" class="sans" font-size="15.8">18</text>
<line x1="296.5" y1="449" x2="296.5" y2="462" stroke="#444" stroke-width="1"/>
<text transform="translate(298.0,463) scale(1,1)" class="sans" font-size="15.8">25</text>
<line x1="328.2" y1="449" x2="328.2" y2="462" stroke="#444" stroke-width="1"/>
<text transform="translate(329.7,463) scale(1,1)" class="sans" font-size="15.8">02</text>
<line x1="367.8" y1="449" x2="367.8" y2="462" stroke="#444" stroke-width="1"/>
<text transform="translate(369.3,463) scale(1,1)" class="sans" font-size="15.8">09</text>
<line x1="407.5" y1="449" x2="407.5" y2="462" stroke="#444" stroke-width="1"/>
<text transform="translate(409.0,463) scale(1,1)" class="sans" font-size="15.8">16</text>
<line x1="447.1" y1="449" x2="447.1" y2="462" stroke="#444" stroke-width="1"/>
<text transform="translate(448.6,463) scale(1,1)" class="sans" font-size="15.8">23</text>
<line x1="494.7" y1="449" x2="494.7" y2="462" stroke="#444" stroke-width="1"/>
<text transform="translate(496.2,463) scale(1,1)" class="sans" font-size="15.8">02</text>
<line x1="550.2" y1="449" x2="550.2" y2="462" stroke="#444" stroke-width="1"/>
<text transform="translate(551.7,463) scale(1,1)" class="sans" font-size="15.8">13</text>
<line x1="589.8" y1="449" x2="589.8" y2="462" stroke="#444" stroke-width="1"/>
<text transform="translate(591.3,463) scale(1,1)" class="sans" font-size="15.8">21</text>
<line x1="621.5" y1="449" x2="621.5" y2="462" stroke="#444" stroke-width="1"/>
<text transform="translate(623.0,463) scale(1,1)" class="sans" font-size="15.8">27</text>
<line x1="661.2" y1="449" x2="661.2" y2="462" stroke="#444" stroke-width="1"/>
<text transform="translate(662.7,463) scale(1,1)" class="sans" font-size="15.8">03</text>
<line x1="700.8" y1="449" x2="700.8" y2="462" stroke="#444" stroke-width="1"/>
<text transform="translate(702.3,463) scale(1,1)" class="sans" font-size="15.8">10</text>
<line x1="740.5" y1="449" x2="740.5" y2="462" stroke="#444" stroke-width="1"/>
<text transform="translate(742.0,463) scale(1,1)" class="sans" font-size="15.8">18</text>
<line x1="772.2" y1="449" x2="772.2" y2="462" stroke="#444" stroke-width="1"/>
<text transform="translate(773.7,463) scale(1,1)" class="sans" font-size="15.8">24</text>
<line x1="811.8" y1="449" x2="811.8" y2="462" stroke="#444" stroke-width="1"/>
<text transform="translate(813.3,463) scale(1,1)" class="sans" font-size="15.8">03</text>
<text transform="translate(171,446) scale(1.05,1)" class="sans" font-size="14">Nov</text>
<text transform="translate(329.5,446) scale(1.05,1)" class="sans" font-size="14">Dec</text>
<text transform="translate(496.3,446) scale(1.05,1)" class="sans" font-size="14">2025</text>
<text transform="translate(662.7,446) scale(1.05,1)" class="sans" font-size="14">Feb</text>
<g class="sans" font-size="14" fill="#000"><text transform="translate(847.10,10.6) scale(1.1,1)">5</text><text transform="translate(855.67,10.6) scale(1.1,1)">2</text><text transform="translate(864.24,10.6) scale(1.1,1)">0</text><text transform="translate(877.31,10.6) scale(1.1,1)" text-anchor="middle">-</text><text transform="translate(881.38,10.6) scale(1.1,1)">0</text><text transform="translate(894.45,10.6) scale(1.1,1)" text-anchor="middle">'</text></g>
<g class="sans" font-size="14" fill="#000"><text transform="translate(847.10,77.7) scale(1.1,1)">5</text><text transform="translate(855.67,77.7) scale(1.1,1)">0</text><text transform="translate(864.24,77.7) scale(1.1,1)">0</text><text transform="translate(877.31,77.7) scale(1.1,1)" text-anchor="middle">-</text><text transform="translate(881.38,77.7) scale(1.1,1)">0</text><text transform="translate(894.45,77.7) scale(1.1,1)" text-anchor="middle">'</text></g>
<g class="sans" font-size="14" fill="#000"><text transform="translate(847.10,144.8) scale(1.1,1)">4</text><text transform="translate(855.67,144.8) scale(1.1,1)">8</text><text transform="translate(864.24,144.8) scale(1.1,1)">0</text><text transform="translate(877.31,144.8) scale(1.1,1)" text-anchor="middle">-</text><text transform="translate(881.38,144.8) scale(1.1,1)">0</text><text transform="translate(894.45,144.8) scale(1.1,1)" text-anchor="middle">'</text></g>
<g class="sans" font-size="14" fill="#000"><text transform="translate(847.10,212.0) scale(1.1,1)">4</text><text transform="translate(855.67,212.0) scale(1.1,1)">6</text><text transform="translate(864.24,212.0) scale(1.1,1)">0</text><text transform="translate(877.31,212.0) scale(1.1,1)" text-anchor="middle">-</text><text transform="translate(881.38,212.0) scale(1.1,1)">0</text><text transform="translate(894.45,212.0) scale(1.1,1)" text-anchor="middle">'</text></g>
<g class="sans" font-size="14" fill="#000"><text transform="translate(847.10,279.1) scale(1.1,1)">4</text><text transform="translate(855.67,279.1) scale(1.1,1)">4</text><text transform="translate(864.24,279.1) scale(1.1,1)">0</text><text transform="translate(877.31,279.1) scale(1.1,1)" text-anchor="middle">-</text><text transform="translate(881.38,279.1) scale(1.1,1)">0</text><text transform="translate(894.45,279.1) scale(1.1,1)" text-anchor="middle">'</text></g>
<g class="sans" font-size="14" fill="#000"><text transform="translate(847.10,346.3) scale(1.1,1)">4</text><text transform="translate(855.67,346.3) scale(1.1,1)">2</text><text transform="translate(864.24,346.3) scale(1.1,1)">0</text><text transform="translate(877.31,346.3) scale(1.1,1)" text-anchor="middle">-</text><text transform="translate(881.38,346.3) scale(1.1,1)">0</text><text transform="translate(894.45,346.3) scale(1.1,1)" text-anchor="middle">'</text></g>
<rect x="837.5" y="48" width="61.5" height="15" fill="#8c2a22"/>
<g class="sans" font-size="14" fill="#fff"><text transform="translate(847.10,60.5) scale(1.1,1)">5</text><text transform="translate(855.67,60.5) scale(1.1,1)">0</text><text transform="translate(864.24,60.5) scale(1.1,1)">5</text><text transform="translate(877.31,60.5) scale(1.1,1)" text-anchor="middle">-</text><text transform="translate(881.38,60.5) scale(1.1,1)">2</text><text transform="translate(894.45,60.5) scale(1.1,1)" text-anchor="middle">'</text></g>
<rect x="837.5" y="94" width="61.5" height="14.299999999999997" fill="#ff00ff"/>
<g class="sans" font-size="14" fill="#fff"><text transform="translate(847.10,106.2) scale(1.1,1)">4</text><text transform="translate(855.67,106.2) scale(1.1,1)">9</text><text transform="translate(864.24,106.2) scale(1.1,1)">1</text><text transform="translate(877.31,106.2) scale(1.1,1)" text-anchor="middle">-</text><text transform="translate(881.38,106.2) scale(1.1,1)">6</text><text transform="translate(894.45,106.2) scale(1.1,1)" text-anchor="middle">'</text></g>
<rect x="837.5" y="84.4" width="61.5" height="14.0" fill="#111"/>
<g class="sans" font-size="14" fill="#fff"><text transform="translate(847.10,96.2) scale(1.1,1)">4</text><text transform="translate(855.67,96.2) scale(1.1,1)">9</text><text transform="translate(864.24,96.2) scale(1.1,1)">4</text><text transform="translate(877.31,96.2) scale(1.1,1)" text-anchor="middle">-</text><text transform="translate(881.38,96.2) scale(1.1,1)">6</text><text transform="translate(894.45,96.2) scale(1.1,1)" text-anchor="middle">'</text></g>
<rect x="837.5" y="120" width="61.5" height="14.599999999999994" fill="#f02020"/>
<g class="sans" font-size="14" fill="#fff"><text transform="translate(847.10,132.2) scale(1.1,1)">4</text><text transform="translate(855.67,132.2) scale(1.1,1)">8</text><text transform="translate(864.24,132.2) scale(1.1,1)">3</text><text transform="translate(877.31,132.2) scale(1.1,1)" text-anchor="middle">-</text><text transform="translate(881.38,132.2) scale(1.1,1)">7</text><text transform="translate(894.45,132.2) scale(1.1,1)" text-anchor="middle">'</text></g>
<g class="sans" font-size="14" fill="#000"><text transform="translate(842.60,372.3) scale(1,1)" text-anchor="middle" font-size="13">+</text><text transform="translate(847.17,373.5) scale(1.1,1)">1</text><text transform="translate(855.74,373.5) scale(1.1,1)">0</text><text transform="translate(868.81,373.5) scale(1.1,1)" text-anchor="middle">-</text><text transform="translate(872.88,373.5) scale(1.1,1)">0</text><text transform="translate(885.95,373.5) scale(1.1,1)" text-anchor="middle">'</text></g>
<g class="sans" font-size="14" fill="#000"><text transform="translate(851.10,423.8) scale(1,1)" text-anchor="middle" font-size="13">+</text><text transform="translate(855.67,425.0) scale(1.1,1)">0</text><text transform="translate(868.74,425.0) scale(1.1,1)" text-anchor="middle">-</text><text transform="translate(872.81,425.0) scale(1.1,1)">0</text><text transform="translate(885.88,425.0) scale(1.1,1)" text-anchor="middle">'</text></g>
<rect x="837.5" y="378.3" width="61.5" height="14.699999999999989" fill="#f02020"/>
<g class="sans" font-size="14" fill="#fff"><text transform="translate(851.10,389.8) scale(1,1)" text-anchor="middle" font-size="13">+</text><text transform="translate(855.67,391.0) scale(1.1,1)">7</text><text transform="translate(868.74,391.0) scale(1.1,1)" text-anchor="middle">-</text><text transform="translate(872.81,391.0) scale(1.1,1)">0</text><text transform="translate(885.88,391.0) scale(1.1,1)" text-anchor="middle">'</text></g>
<rect x="837.5" y="393.3" width="61.5" height="14.699999999999989" fill="#1414f0"/>
<g class="sans" font-size="14" fill="#fff"><text transform="translate(851.10,404.1) scale(1,1)" text-anchor="middle" font-size="13">+</text><text transform="translate(855.67,405.3) scale(1.1,1)">4</text><text transform="translate(868.74,405.3) scale(1.1,1)" text-anchor="middle">-</text><text transform="translate(872.81,405.3) scale(1.1,1)">1</text><text transform="translate(885.88,405.3) scale(1.1,1)" text-anchor="middle">'</text></g>
<line x1="899.5" y1="0" x2="899.5" y2="462" stroke="#ebebf3" stroke-width="1"/>
<path d="M888 456.7 L893.4 452.6 L893.4 454.9 L898.2 454.9 L898.2 458.6 L893.4 458.6 L893.4 460.8 Z" fill="#f00000"/>
<text transform="translate(205.6,98.2) scale(0.92,1)" class="mono" font-size="26.5" letter-spacing="0.1" xml:space="preserve">May Corn</text>
<text x="474.1" y="39.3" class="mono" font-size="12" fill="#8c2a22" letter-spacing="0.15" xml:space="preserve">Resistance</text>
<text x="474.1" y="51.4" class="mono" font-size="12" fill="#8c2a22" letter-spacing="0.15" xml:space="preserve">at $5.05 1/4</text>
<text x="406.5" y="144.5" class="mono" font-size="12" fill="#ff2020" letter-spacing="0.15" xml:space="preserve">Support at</text>
<text x="406.5" y="156.7" class="mono" font-size="12" fill="#ff2020" letter-spacing="0.15" xml:space="preserve">$4.84</text>
<text x="643.1" y="202.5" class="mono" font-size="12" fill="#ff00ff" letter-spacing="0.15" xml:space="preserve">40-day</text>
<text x="643.1" y="214.5" class="mono" font-size="12" fill="#ff00ff" letter-spacing="0.15" xml:space="preserve">moving</text>
<text x="643.1" y="226.6" class="mono" font-size="12" fill="#ff00ff" letter-spacing="0.15" xml:space="preserve">average</text>
<text x="459.4" y="290.1" class="mono" font-size="12" fill="#1a1aff" letter-spacing="0.15" xml:space="preserve">Bulls have overall near-term technical</text>
<text x="459.4" y="302.2" class="mono" font-size="12" fill="#1a1aff" letter-spacing="0.15" xml:space="preserve">advantage but have faded as price uptrend</text>
<text x="459.4" y="314.4" class="mono" font-size="12" fill="#1a1aff" letter-spacing="0.15" xml:space="preserve">stalls out.</text>
<text x="652.5" y="403" class="mono" font-size="12" fill="#000" letter-spacing="0.15" xml:space="preserve">MACD posture</text>
<text x="652.5" y="415.2" class="mono" font-size="12" fill="#000" letter-spacing="0.15" xml:space="preserve">is bearish</text>
<text transform="translate(-2.8,362.7) scale(0.88,1)" class="sans" font-size="13">MACD</text>
<text transform="translate(-2.6,430.8) scale(0.91,1)" class="sans" font-size="12">MACD=</text>
<text transform="translate(-2.6,444.2) scale(0.91,1)" class="sans" font-size="12">MACDA=</text>
<g class="sans" font-size="12" fill="#000"><text transform="translate(58.8,430.8) scale(1.2,1)" text-anchor="middle">+</text><text transform="translate(66.9,430.8) scale(1.2,1)" text-anchor="middle">4</text><text transform="translate(76.8,430.8) scale(1.2,1)" text-anchor="middle">-</text><text transform="translate(85.6,430.8) scale(1.2,1)" text-anchor="middle">1</text><text transform="translate(93.8,430.8) scale(1.2,1)" text-anchor="middle">.</text><text transform="translate(101.6,430.8) scale(1.2,1)" text-anchor="middle">2</text><text transform="translate(109.3,430.8) scale(1.2,1)" text-anchor="middle">7</text><text transform="translate(118.5,430.8) scale(1.2,1)" text-anchor="middle">'</text></g>
<g class="sans" font-size="12" fill="#000"><text transform="translate(58.8,444.2) scale(1.2,1)" text-anchor="middle">+</text><text transform="translate(66.9,444.2) scale(1.2,1)" text-anchor="middle">6</text><text transform="translate(76.8,444.2) scale(1.2,1)" text-anchor="middle">-</text><text transform="translate(85.6,444.2) scale(1.2,1)" text-anchor="middle">7</text><text transform="translate(93.8,444.2) scale(1.2,1)" text-anchor="middle">.</text><text transform="translate(101.6,444.2) scale(1.2,1)" text-anchor="middle">8</text><text transform="translate(109.3,444.2) scale(1.2,1)" text-anchor="middle">7</text><text transform="translate(118.5,444.2) scale(1.2,1)" text-anchor="middle">'</text></g>
</svg>
</body></html>
